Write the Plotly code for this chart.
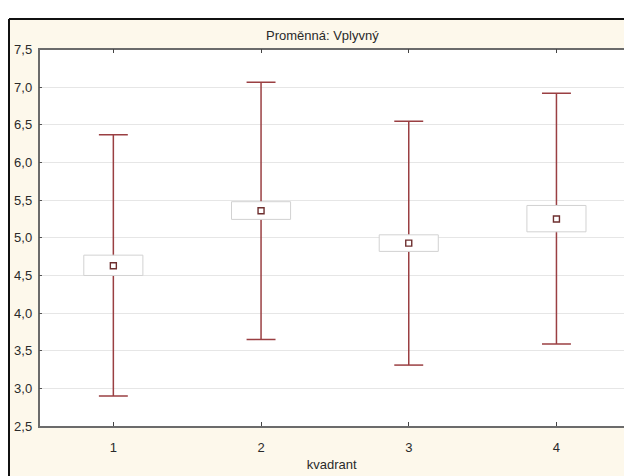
import plotly.graph_objects as go

# Group statistics for "Vplyvný" by quadrant
kvadrant = [1, 2, 3, 4]
prumer = [4.63, 5.36, 4.93, 5.25]
box_dolni = [4.50, 5.245, 4.82, 5.08]
box_horni = [4.77, 5.48, 5.04, 5.43]
vous_dolni = [2.90, 3.65, 3.31, 3.59]
vous_horni = [6.37, 7.065, 6.55, 6.92]
y_ticks = [2.5, 3.0, 3.5, 4.0, 4.5, 5.0, 5.5, 6.0, 6.5, 7.0, 7.5]

W, H = 624, 476
BOX_HALF = 0.2
CAP_HALF = 0.098
WHISKER_COLOR = "#9a3f42"
MEAN_COLOR = "#6e2f2f"
BOX_LINE = "#d2d2d2"
TEXT = "#2a2a2a"
FONT = "Liberation Sans, Arial, sans-serif"

fig = go.Figure()

for i, k in enumerate(kvadrant):
    # whisker: vertical line with caps
    fig.add_trace(go.Scatter(
        x=[k - CAP_HALF, k + CAP_HALF, None, k, k, None, k - CAP_HALF, k + CAP_HALF],
        y=[vous_horni[i], vous_horni[i], None, vous_horni[i], vous_dolni[i], None,
           vous_dolni[i], vous_dolni[i]],
        mode="lines", line=dict(color=WHISKER_COLOR, width=1.5),
        hoverinfo="skip", showlegend=False))
    # box, white-filled so it hides the whisker behind it
    fig.add_trace(go.Scatter(
        x=[k - BOX_HALF, k + BOX_HALF, k + BOX_HALF, k - BOX_HALF, k - BOX_HALF],
        y=[box_dolni[i], box_dolni[i], box_horni[i], box_horni[i], box_dolni[i]],
        mode="lines", fill="toself", fillcolor="white",
        line=dict(color=BOX_LINE, width=1),
        hoverinfo="skip", showlegend=False))

# mean markers
fig.add_trace(go.Scatter(
    x=kvadrant, y=prumer, mode="markers",
    marker=dict(symbol="square", size=6, color="white",
                line=dict(color=MEAN_COLOR, width=1.4)),
    showlegend=False))

x_left = 39.5
cat_step = 147.7
x_range = [0.5, 0.5 + (W - x_left) / cat_step]

frame_x = 9 / W
frame_y = 1 - 12.5 / H

fig.update_layout(
    width=W, height=H,
    margin=dict(l=0, r=0, t=0, b=0),
    paper_bgcolor="white",
    plot_bgcolor="white",
    separators=", ",
    font=dict(family=FONT, size=13, color=TEXT),
    xaxis=dict(
        domain=[x_left / W, 1], range=x_range,
        tickmode="array", tickvals=kvadrant, ticktext=[str(k) for k in kvadrant],
        ticks="inside", ticklen=4, tickcolor="#444444", tickwidth=1,
        showline=True, linecolor="#6b6b6b", linewidth=1.5, mirror="ticks",
        showgrid=False, zeroline=False,
        tickfont=dict(size=13, color=TEXT), ticklabelstandoff=9,
        title=dict(text="kvadrant", font=dict(size=13, color=TEXT), standoff=5),
    ),
    yaxis=dict(
        domain=[1 - 432.7 / H, 1 - 44 / H], range=[2.5, 7.5],
        tickmode="array", tickvals=y_ticks, tickformat=".1f",
        ticks="inside", ticklen=3, tickcolor="#555555",
        showline=True, linecolor="#6b6b6b", linewidth=1.5, mirror=False,
        showgrid=True, gridcolor="#e6e6e6", gridwidth=1, zeroline=False,
        tickfont=dict(size=13, color=TEXT), ticklabelstandoff=3,
    ),
    shapes=[
        # cream chart frame
        dict(type="rect", xref="paper", yref="paper", layer="below",
             x0=frame_x, x1=1.2, y0=-0.2, y1=frame_y,
             fillcolor="#fdf8eb", line=dict(width=0)),
        # black border on the left and top of the frame
        dict(type="line", xref="paper", yref="paper", layer="below",
             x0=frame_x, x1=frame_x, y0=-0.2, y1=frame_y,
             line=dict(color="#111111", width=2)),
        dict(type="line", xref="paper", yref="paper", layer="below",
             x0=frame_x, x1=1.2, y0=frame_y, y1=frame_y,
             line=dict(color="#111111", width=2)),
        # white plotting area
        dict(type="rect", xref="x domain", yref="y domain", layer="below",
             x0=0, x1=1, y0=0, y1=1,
             fillcolor="white", line=dict(width=0)),
    ],
    annotations=[
        dict(text="Proměnná: Vplyvný", xref="paper", yref="paper",
             x=322.5 / W, y=1 - 29.5 / H, xanchor="center", yanchor="middle",
             showarrow=False, font=dict(size=13, color=TEXT)),
    ],
)

fig.write_html("out.html")
